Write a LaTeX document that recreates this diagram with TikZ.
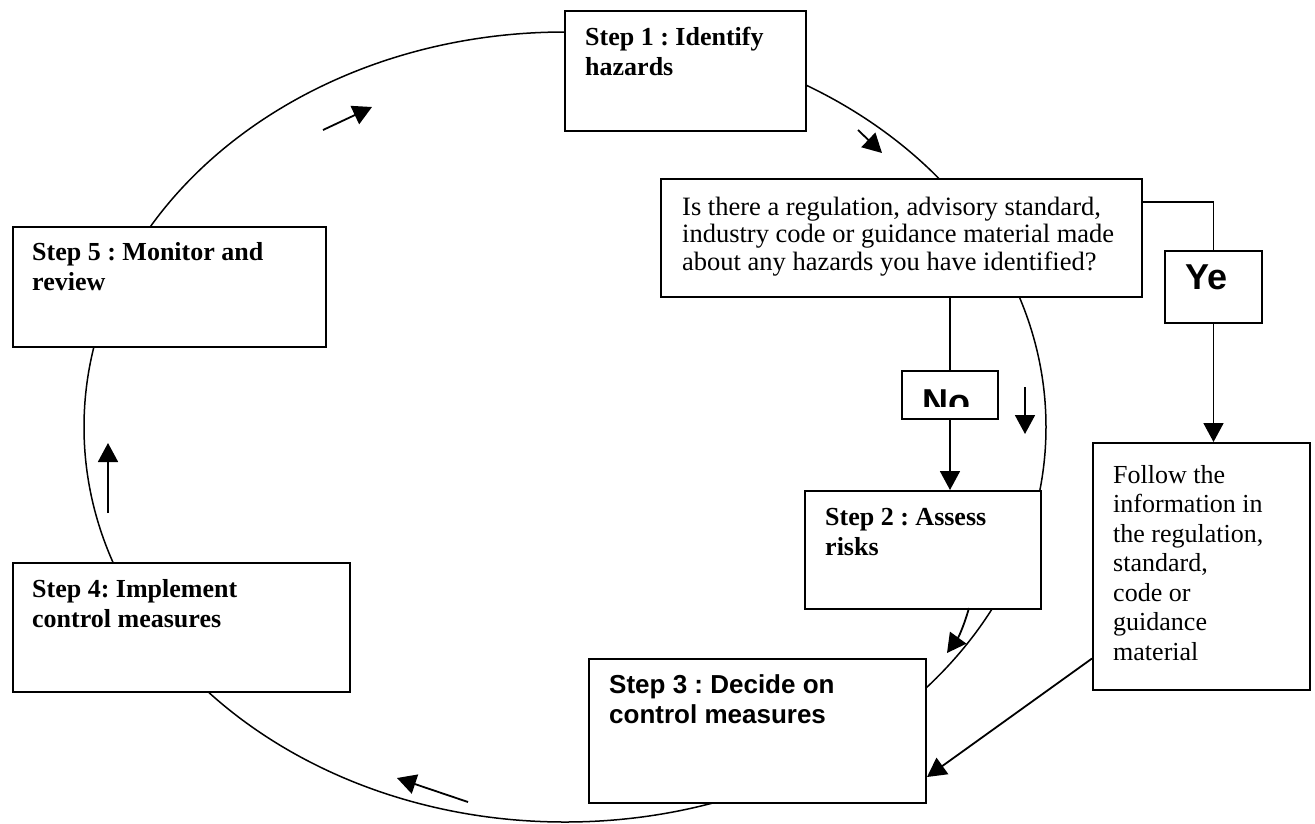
\documentclass[tikz,border=0pt]{standalone}
\usepackage{fontspec}
\setmainfont{Liberation Serif}
\newfontfamily\arialf{Liberation Sans}
\usetikzlibrary{arrows.meta,calc}
\frenchspacing
\tikzset{
 box/.style={draw, line width=2pt, fill=white, inner sep=0pt, anchor=north west},
 lbl/.style={inner sep=0pt, anchor=base west},
 cyc/.style={line width=1.5pt},
 conn/.style={line width=1.8pt},
 arr/.style={line width=1.8pt, -{Triangle[length=19pt,width=20pt]}},
}
\newcommand{\stepfont}{\fontsize{26}{30}\selectfont\bfseries}
\begin{document}
\begin{tikzpicture}[x=1pt,y=-1pt]
\useasboundingbox (0,0) rectangle (1315,823);
% cycle
\draw[cyc] (565,427) ellipse [x radius=481pt, y radius=395pt];
% boxes
\node[box, minimum width=241pt, minimum height=120pt] (s1) at (564,10) {};
\node[box, minimum width=481pt, minimum height=118pt] (q) at (660,178) {};
\node[box, minimum width=97pt, minimum height=72pt] (yes) at (1164,250) {};
\node[box, minimum width=96pt, minimum height=48pt] (no) at (901,370) {};
\node[box, minimum width=236pt, minimum height=118pt] (s2) at (804,490) {};
\node[box, minimum width=337pt, minimum height=144pt] (s3) at (588,658) {};
\node[box, minimum width=217pt, minimum height=247pt] (fol) at (1092,442) {};
\node[box, minimum width=313pt, minimum height=120pt] (s5) at (12,226) {};
\node[box, minimum width=337pt, minimum height=129pt] (s4) at (12,562) {};
% connectors
\draw[conn] ([yshift=-24pt]q.north east) -| (yes.north);
\draw[arr] (yes.south) -- (yes.south |- fol.north);
\draw[conn] (no.north |- q.south) -- (no.north);
\draw[arr] (no.south) -- (no.south |- s2.north);
\draw[arr] ([yshift=-92pt]fol.west) -- ([yshift=-46pt]s3.east);
% small direction arrows
\coordinate (a1s) at (323,130); \coordinate (a1e) at (372,107);
\coordinate (a2s) at (858,130); \coordinate (a2e) at (882,153);
\coordinate (a3s) at (1025,387); \coordinate (a3e) at (1025,434);
\coordinate (a4s) at (969,608); \coordinate (a4e) at (947,653);
\coordinate (a5s) at (468,802); \coordinate (a5e) at (397,778);
\coordinate (a6s) at (108,513); \coordinate (a6e) at (108,443);
\draw[arr] (a1s) -- (a1e);
\draw[arr] (a2s) -- (a2e);
\draw[arr] (a3s) -- (a3e);
\draw[arr] (a4s) to[bend left=10] (a4e);
\draw[arr] (a5s) -- (a5e);
\draw[arr] (a6s) -- (a6e);
% texts
\node[lbl] (t1) at (585,45) {\parbox[t]{215pt}{\raggedright\stepfont Step 1 : Identify\\hazards}};
\node[lbl] (tq) at (682,215) {\parbox[t]{455pt}{\raggedright\fontsize{26.5}{27.5}\selectfont Is there a regulation, advisory standard,\\industry code or guidance material made\\about any hazards you have identified?}};
\node[lbl] (t5) at (32,260) {\parbox[t]{290pt}{\raggedright\stepfont Step 5 : Monitor and\\review}};
\node[lbl] (t4) at (32,597) {\parbox[t]{300pt}{\raggedright\stepfont Step 4: Implement\\control measures}};
\node[lbl] (t2) at (825,525) {\parbox[t]{210pt}{\raggedright\stepfont Step 2 : Assess\\risks}};
\node[lbl] (t3) at (609,693) {\parbox[t]{310pt}{\raggedright\arialf\stepfont Step 3 : Decide on\\control measures}};
\node[lbl] (tf) at (1113,483) {\parbox[t]{195pt}{\raggedright\fontsize{26}{29.5}\selectfont Follow the\\information in\\the regulation,\\standard,\\code or\\guidance\\material}};
\node[lbl] (tyes) at (1185,289) {\arialf\fontsize{36}{40}\selectfont\bfseries Ye};
\begin{scope}
\clip (901,370) rectangle (997,406);
\node[lbl] (tno) at (922,414) {\arialf\fontsize{36}{40}\selectfont\bfseries No};
\end{scope}
\end{tikzpicture}
\end{document}
